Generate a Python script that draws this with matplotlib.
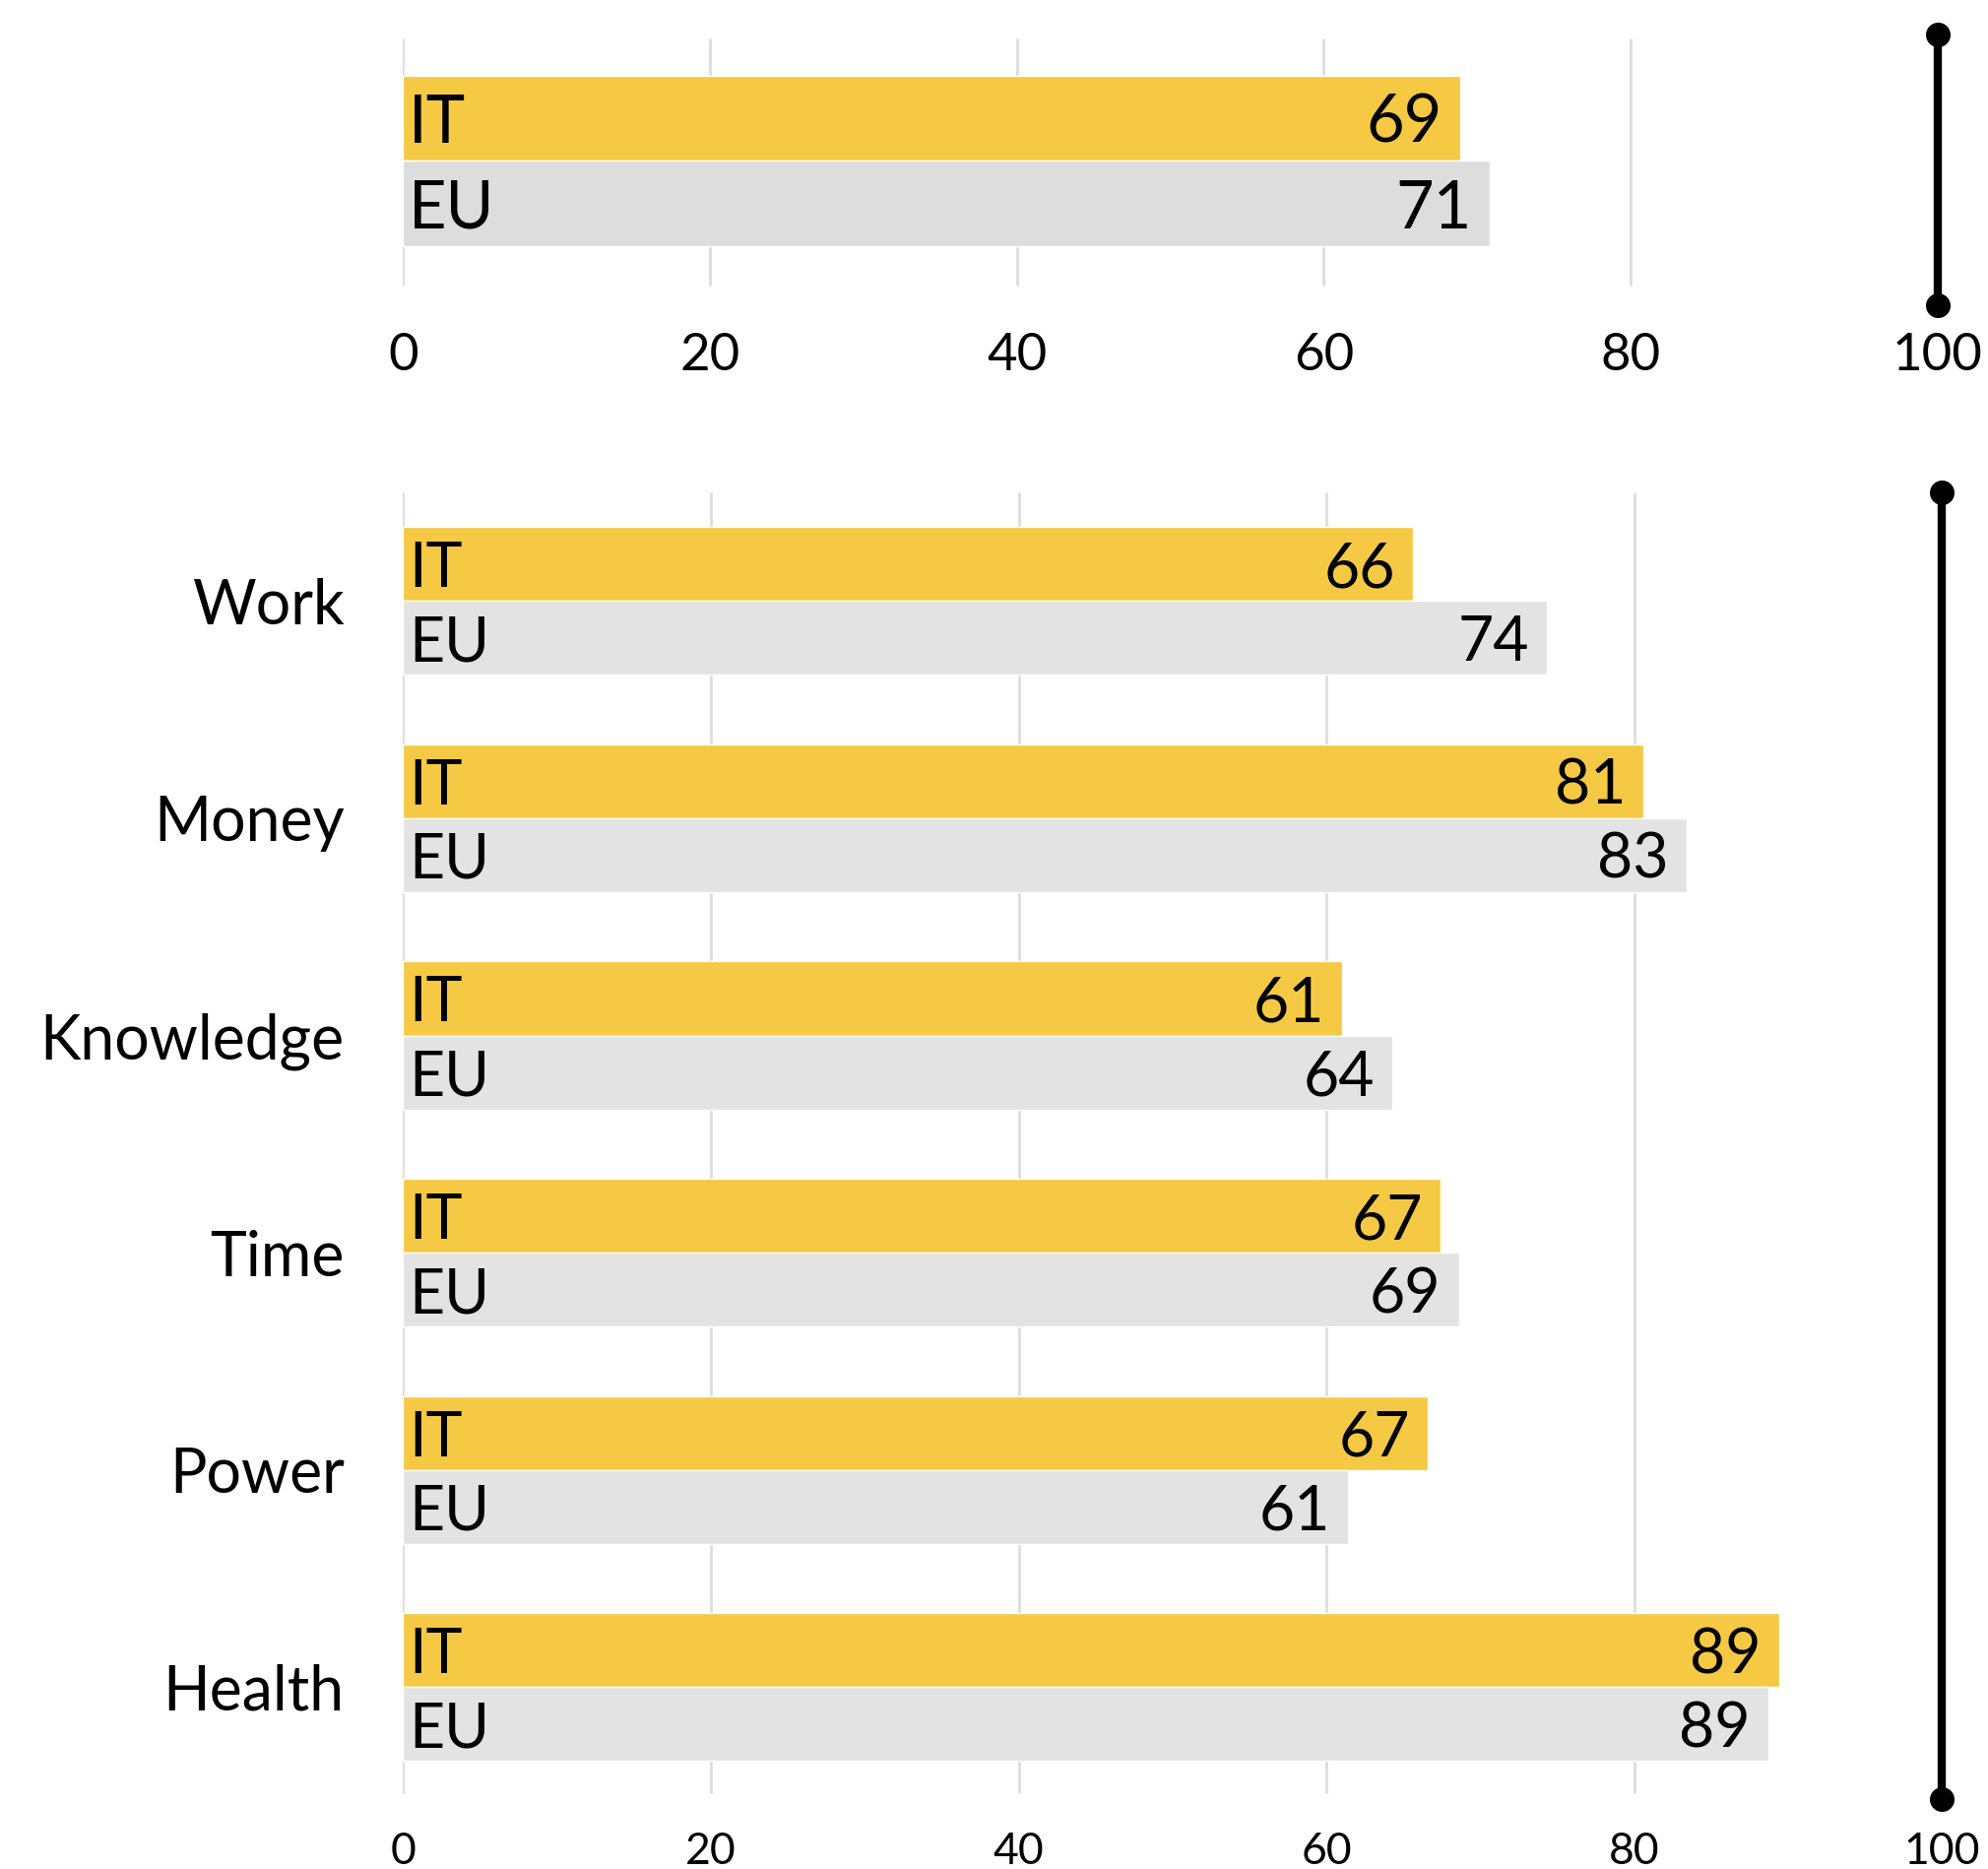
import matplotlib.pyplot as plt

# overall score (bar lengths, labels are rounded)
top_groups = ['IT', 'EU']
top_values = [68.9, 70.8]

# domains
categories = ['Work', 'Money', 'Knowledge', 'Time', 'Power', 'Health']
it_values = [65.6, 80.6, 61.0, 67.4, 66.6, 89.4]
eu_values = [74.3, 83.4, 64.3, 68.6, 61.4, 88.7]

ticks = [0, 20, 40, 60, 80, 100]

yellow = '#F5C944'
grey_top = '#DDDDDD'
grey = '#E3E3E3'
grid_c = '#DDDDDD'

plt.rcParams['font.family'] = ['Lato', 'DejaVu Sans']

fig = plt.figure(figsize=(20.19, 18.98), dpi=100)

def style_axis(ax, ylim, tick_size, pad):
    ax.set_xlim(0, 100)
    ax.set_ylim(*ylim)
    for s in ax.spines.values():
        s.set_visible(False)
    ax.set_xticks(ticks)
    ax.set_xticklabels([str(t) for t in ticks])
    ax.tick_params(axis='x', length=0, labelsize=tick_size, pad=pad)

def right_rule(ax, ylim):
    ax.plot([100, 100], list(ylim), color='black', lw=6, marker='o',
            markersize=17, clip_on=False, zorder=5)

def label_bar(ax, name, v, y, size):
    ax.annotate(name, (0, y), xytext=(4, 0), textcoords='offset points',
                ha='left', va='center_baseline', fontsize=size, zorder=3)
    ax.annotate(f'{v:.0f}', (v, y), xytext=(-13, 0), textcoords='offset points',
                ha='right', va='center_baseline', fontsize=size, zorder=3)

# ---- top chart ----
ax1 = fig.add_axes([0.2028, 0.8367, 0.7717, 0.1449])
ylim1 = (3.235, 0)
style_axis(ax1, ylim1, 38, 20)
ax1.set_yticks([])
ax1.vlines(ticks[:-1], 0.05, 3.0, color=grid_c, lw=2, zorder=0)
pos1 = [1.0, 2.02]
cols1 = [yellow, grey_top]
ax1.barh(pos1, top_values, height=1.02, color=cols1, edgecolor='white', linewidth=1, zorder=2)
for y, g, v in zip(pos1, top_groups, top_values):
    label_bar(ax1, g, v, y, 48)
right_rule(ax1, ylim1)

# ---- bottom chart ----
ax2 = fig.add_axes([0.2028, 0.0374, 0.7741, 0.6992])
ylim2 = (6.015, 0)
style_axis(ax2, ylim2, 32, 24)
centers = [i + 0.5 for i in range(len(categories))]
ax2.set_yticks(centers)
ax2.set_yticklabels(categories)
ax2.tick_params(axis='y', length=0, labelsize=45, pad=43)
ax2.vlines(ticks[:-1], 0, 5.99, color=grid_c, lw=2, zorder=0)
h = 0.34
it_pos = [c - h / 2 for c in centers]
eu_pos = [c + h / 2 for c in centers]
ax2.barh(it_pos, it_values, height=h, color=yellow, edgecolor='white', linewidth=1, zorder=2)
ax2.barh(eu_pos, eu_values, height=h, color=grey, edgecolor='white', linewidth=1, zorder=2)
for yi, ye, vi, ve in zip(it_pos, eu_pos, it_values, eu_values):
    label_bar(ax2, 'IT', vi, yi, 45)
    label_bar(ax2, 'EU', ve, ye, 45)
right_rule(ax2, ylim2)

fig.savefig('out.png', dpi=100)
